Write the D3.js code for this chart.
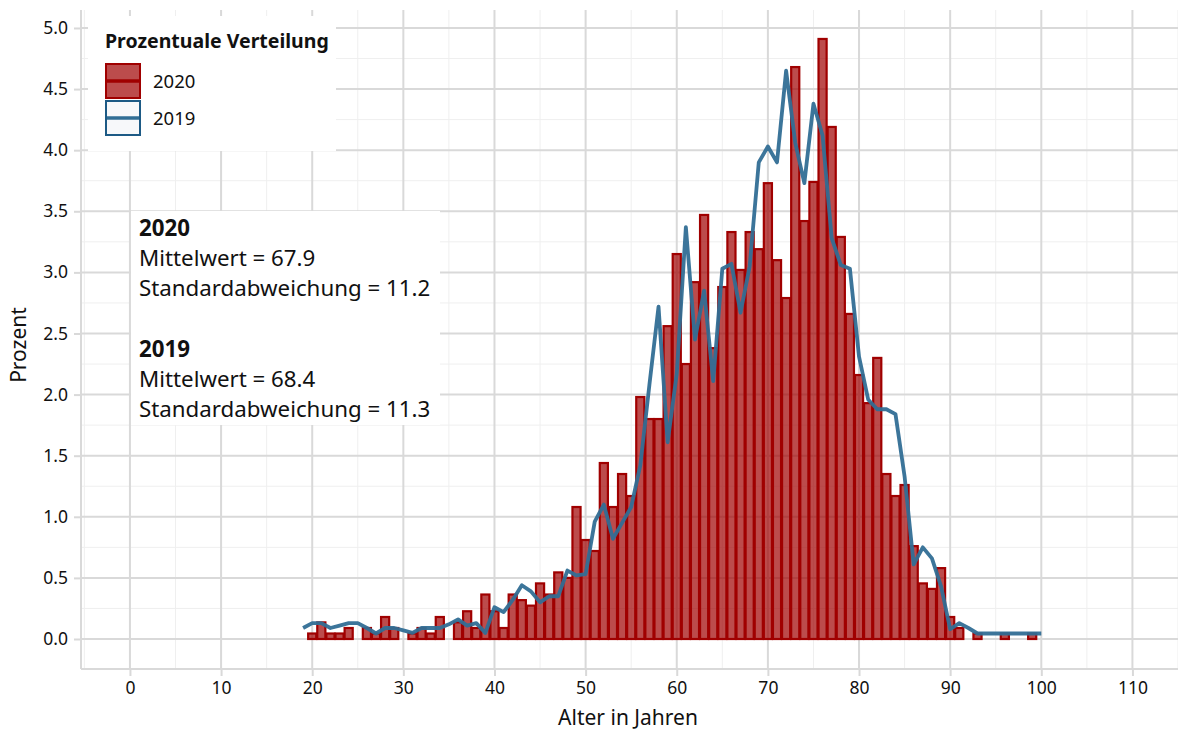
<!DOCTYPE html>
<html>
<head>
<meta charset="utf-8">
<script src="https://cdn.jsdelivr.net/npm/d3@7"></script>
<style>
body { margin: 0; background: #fff; }
text { font-family: "Noto Sans", sans-serif; fill: #111; }
</style>
</head>
<body>
<div class="chart"></div>
<script>
// Altersverteilung 2020 (Balken) vs. 2019 (Linie)
var ages2020 = [20,21,22,23,24,25,26,27,28,29,30,31,32,33,34,35,36,37,38,39,
                40,41,42,43,44,45,46,47,48,49,50,51,52,53,54,55,56,57,58,59,
                60,61,62,63,64,65,66,67,68,69,70,71,72,73,74,75,76,77,78,79,
                80,81,82,83,84,85,86,87,88,89,90,91,92,93,94,95,96,97,98,99];
var pct2020 = [0.045,0.136,0.045,0.045,0.09,0,0.09,0.045,0.18,0.09,0,0.045,0.09,0.045,0.18,0,0.136,0.227,0.09,0.364,
               0.227,0.09,0.364,0.318,0.273,0.455,0.364,0.545,0.5,1.08,0.81,0.72,1.44,1.08,1.35,1.17,1.98,1.80,1.80,2.56,
               3.15,2.25,2.92,3.47,2.38,2.88,3.33,3.02,3.33,3.19,3.73,3.10,2.79,4.68,3.42,3.74,4.91,4.19,3.29,2.66,
               2.16,1.93,2.30,1.35,1.17,1.26,0.76,0.455,0.41,0.58,0.18,0.09,0,0.045,0,0,0.045,0,0,0.045];

var ages2019 = [19,20,21,22,23,24,25,26,27,28,29,30,31,32,33,34,35,36,37,38,39,
                40,41,42,43,44,45,46,47,48,49,50,51,52,53,54,55,56,57,58,59,
                60,61,62,63,64,65,66,67,68,69,70,71,72,73,74,75,76,77,78,79,
                80,81,82,83,84,85,86,87,88,89,90,91,92,93,94,95,96,97,98,99,100];
var pct2019 = [0.09,0.13,0.13,0.09,0.11,0.13,0.13,0.09,0.045,0.09,0.09,0.07,0.05,0.09,0.09,0.09,0.12,0.16,0.11,0.13,0.05,
               0.26,0.22,0.32,0.44,0.39,0.30,0.35,0.35,0.56,0.52,0.53,0.96,1.10,0.82,0.95,1.08,1.42,2.08,2.72,1.61,
               2.17,3.37,2.45,2.85,2.11,3.03,3.07,2.67,3.05,3.90,4.03,3.90,4.65,4.06,3.73,4.38,4.12,3.28,3.06,3.03,
               2.31,1.96,1.88,1.88,1.84,1.33,0.61,0.75,0.66,0.43,0.08,0.13,0.09,0.045,0.045,0.045,0.045,0.045,0.045,0.045,0.045];

var xTicks = [0,10,20,30,40,50,60,70,80,90,100,110];
var xMinor = [-5,5,15,25,35,45,55,65,75,85,95,105,115];
var yTicks = [0,0.5,1,1.5,2,2.5,3,3.5,4,4.5,5];
var yMinor = [0.25,0.75,1.25,1.75,2.25,2.75,3.25,3.75,4.25,4.75];

var legendItems = ["2020", "2019"];
var statLines = [
  {t: "2020", b: true}, {t: "Mittelwert = 67.9"}, {t: "Standardabweichung = 11.2"}, {t: ""},
  {t: "2019", b: true}, {t: "Mittelwert = 68.4"}, {t: "Standardabweichung = 11.3"}
];

var width = 1178, height = 731;
var pLeft = 81, pRight = 1178, pTop = 10, pBottom = 669;
var gridMajor = "#d9d9d9", gridMinor = "#efefef";
var red = "#a00000", blue = "#316e95";

var x = d3.scaleLinear().domain([-5.37, 115]).range([pLeft, pRight]);
var y = d3.scaleLinear().domain([-0.2455, 5.147]).range([pBottom, pTop]);

var svg = d3.select(".chart").append("svg")
    .attr("width", width).attr("height", height);

// gitter
var grid = svg.append("g");
grid.selectAll(".xmin").data(xMinor).enter().append("line")
    .attr("x1", d => x(d)).attr("x2", d => x(d)).attr("y1", pTop).attr("y2", pBottom)
    .attr("stroke", gridMinor).attr("stroke-width", 1);
grid.selectAll(".ymin").data(yMinor).enter().append("line")
    .attr("x1", pLeft).attr("x2", pRight).attr("y1", d => y(d)).attr("y2", d => y(d))
    .attr("stroke", gridMinor).attr("stroke-width", 1);
grid.selectAll(".xmaj").data(xTicks).enter().append("line")
    .attr("x1", d => x(d)).attr("x2", d => x(d)).attr("y1", pTop).attr("y2", pBottom)
    .attr("stroke", gridMajor).attr("stroke-width", 2);
grid.selectAll(".ymaj").data(yTicks).enter().append("line")
    .attr("x1", pLeft).attr("x2", pRight).attr("y1", d => y(d)).attr("y2", d => y(d))
    .attr("stroke", gridMajor).attr("stroke-width", 2);

// achsen
var xAxis = d3.axisBottom(x).tickValues(xTicks).tickSize(7).tickPadding(6).tickFormat(d3.format("d"));
var yAxis = d3.axisLeft(y).tickValues(yTicks).tickSize(7).tickPadding(6).tickFormat(d3.format(".1f"));
var gx = svg.append("g").attr("transform", "translate(0," + pBottom + ")").call(xAxis);
var gy = svg.append("g").attr("transform", "translate(" + pLeft + ",0)").call(yAxis);
[gx, gy].forEach(function(g) {
  g.select(".domain").attr("stroke", gridMajor).attr("stroke-width", 2);
  g.selectAll(".tick line").attr("stroke", gridMajor).attr("stroke-width", 2);
  g.selectAll(".tick text").style("font-family", "Noto Sans").style("font-size", "17.5px").attr("fill", "#222");
});
gx.select(".domain").attr("d", "M" + pLeft + ",0H" + pRight);
gy.select(".domain").attr("d", "M0," + pTop + "V" + pBottom);

// balken 2020
var bars = ages2020.map((a, i) => ({age: a, v: pct2020[i]})).filter(d => d.v > 0);
svg.append("g").selectAll("rect").data(bars).enter().append("rect")
    .attr("x", d => x(d.age - 0.5) + 0.5)
    .attr("width", d => x(d.age + 0.5) - x(d.age - 0.5) - 1)
    .attr("y", d => y(d.v))
    .attr("height", d => y(0) - y(d.v))
    .attr("fill", red).attr("fill-opacity", 0.7)
    .attr("stroke", red).attr("stroke-width", 2.2);

// linie 2019
var line = d3.line().x(d => x(d[0])).y(d => y(d[1]));
svg.append("path")
    .datum(ages2019.map((a, i) => [a, pct2019[i]]))
    .attr("d", line)
    .attr("fill", "none").attr("stroke", blue).attr("stroke-width", 3.8)
    .attr("stroke-linejoin", "round").attr("stroke-opacity", 0.95);

// legende
var lg = svg.append("g");
lg.append("rect").attr("x", 88).attr("y", 16).attr("width", 248).attr("height", 135).attr("fill", "#fff");
lg.append("text").attr("x", 105).attr("y", 48).style("font-size", "19.5px").style("font-weight", "bold")
    .text("Prozentuale Verteilung");
legendItems.forEach(function(k, i) {
  var ky = 64 + i * 37;
  var is20 = k === "2020";
  lg.append("rect").attr("x", 106).attr("y", ky).attr("width", 34).attr("height", 34)
      .attr("fill", is20 ? red : "#f7f8fa").attr("fill-opacity", is20 ? 0.7 : 1)
      .attr("stroke", is20 ? red : "#1d5a85").attr("stroke-width", 2);
  lg.append("line").attr("x1", 107).attr("x2", 139).attr("y1", ky + 17).attr("y2", ky + 17)
      .attr("stroke", is20 ? red : blue).attr("stroke-width", 3.5);
  lg.append("text").attr("x", 153).attr("y", ky + 24).style("font-size", "18.5px").text(k);
});

// statistik-box
var sb = svg.append("g");
sb.append("rect").attr("x", 131).attr("y", 211).attr("width", 309).attr("height", 214).attr("fill", "#fff");
statLines.forEach(function(s, i) {
  sb.append("text").attr("x", 139).attr("y", 236 + i * 30.2)
      .style("font-size", "22.3px").style("font-weight", s.b ? "bold" : "normal").text(s.t);
});

// achsentitel
svg.append("text").attr("x", 628).attr("y", 725).attr("text-anchor", "middle")
    .style("font-size", "21px").text("Alter in Jahren");
svg.append("text").attr("transform", "translate(26,345) rotate(-90)").attr("text-anchor", "middle")
    .style("font-size", "21px").text("Prozent");
</script>
</body>
</html>
